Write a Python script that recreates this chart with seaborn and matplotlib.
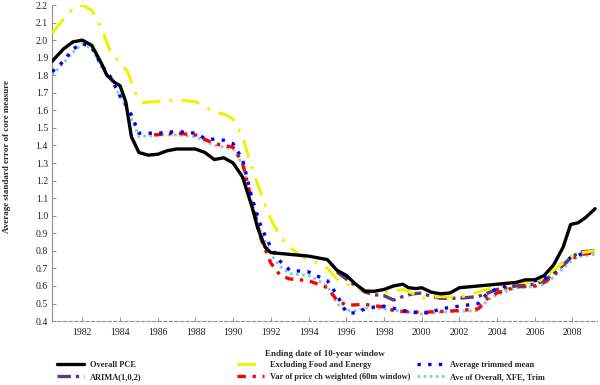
import matplotlib
matplotlib.use('Agg')
import matplotlib.pyplot as plt
import matplotlib.ticker as mticker
import pandas as pd
import seaborn as sns

# Values (year = end of 10-year window)
pce_years = [1980.4, 1981.0, 1981.5, 1982.0, 1982.5, 1983.0, 1983.3, 1983.7, 1984.0, 1984.3,
             1984.6, 1985.0, 1985.5, 1986.0, 1986.5, 1987.0, 1987.5, 1988.0, 1988.5, 1989.0,
             1989.5, 1990.0, 1990.5, 1991.0, 1991.3, 1991.7, 1992.0, 1993.0, 1994.0, 1995.0,
             1995.5, 1996.0, 1996.5, 1997.0, 1997.5, 1998.0, 1998.5, 1999.0, 1999.3, 1999.7,
             2000.0, 2000.5, 2001.0, 2001.5, 2002.0, 2002.5, 2003.0, 2004.0, 2004.5, 2005.0,
             2005.5, 2006.0, 2006.5, 2007.0, 2007.5, 2007.9, 2008.3, 2008.7, 2009.2]
pce_vals = [1.88, 1.95, 1.99, 2.00, 1.97, 1.87, 1.80, 1.76, 1.74, 1.65,
            1.45, 1.36, 1.345, 1.35, 1.37, 1.38, 1.38, 1.38, 1.36, 1.32,
            1.33, 1.30, 1.22, 1.05, 0.93, 0.82, 0.79, 0.78, 0.77, 0.75,
            0.69, 0.66, 0.61, 0.57, 0.57, 0.58, 0.60, 0.61, 0.59, 0.585,
            0.59, 0.565, 0.555, 0.56, 0.59, 0.595, 0.60, 0.61, 0.615, 0.62,
            0.635, 0.635, 0.66, 0.72, 0.82, 0.95, 0.96, 0.99, 1.04]

xfe_years = [1980.4, 1981.0, 1981.5, 1982.0, 1982.5, 1983.0, 1983.5, 1984.0, 1984.4, 1984.8,
             1985.2, 1986.0, 1987.0, 1988.0, 1988.5, 1989.0, 1989.5, 1990.0, 1990.5, 1991.0,
             1991.5, 1992.0, 1992.5, 1993.0, 1993.5, 1994.0, 1994.5, 1995.0, 1995.5, 1996.0,
             1996.5, 1997.0, 1998.0, 1998.5, 1999.0, 1999.5, 2000.0, 2000.5, 2001.0, 2002.0,
             2003.0, 2004.0, 2005.0, 2006.0, 2006.5, 2007.0, 2007.5, 2008.0, 2008.5, 2009.2]
xfe_vals = [2.04, 2.12, 2.18, 2.20, 2.17, 2.07, 1.93, 1.87, 1.82, 1.70,
            1.645, 1.65, 1.66, 1.65, 1.62, 1.59, 1.58, 1.55, 1.45, 1.27,
            1.12, 0.98, 0.88, 0.82, 0.78, 0.75, 0.73, 0.70, 0.64, 0.61,
            0.59, 0.575, 0.56, 0.57, 0.58, 0.56, 0.53, 0.535, 0.54, 0.535,
            0.565, 0.60, 0.62, 0.62, 0.64, 0.69, 0.73, 0.77, 0.79, 0.80]

trim_years = [1980.4, 1981.0, 1981.5, 1982.0, 1982.5, 1983.0, 1983.5, 1984.0, 1984.5, 1985.0,
              1986.0, 1987.0, 1988.0, 1988.5, 1989.5, 1990.0, 1990.5, 1991.0, 1991.5, 1992.0,
              1992.5, 1993.0, 1994.0, 1995.0, 1995.5, 1996.0, 1996.5, 1997.0, 1997.5, 1998.0,
              1999.0, 2000.0, 2000.5, 2001.0, 2002.0, 2003.0, 2003.5, 2004.0, 2005.0, 2006.0,
              2006.5, 2007.0, 2007.5, 2008.0, 2009.2]
trim_vals = [1.82, 1.88, 1.95, 1.98, 1.96, 1.86, 1.79, 1.68, 1.60, 1.47,
             1.47, 1.48, 1.47, 1.44, 1.43, 1.41, 1.32, 1.10, 0.93, 0.82,
             0.74, 0.69, 0.68, 0.63, 0.55, 0.45, 0.445, 0.47, 0.48, 0.485,
             0.46, 0.445, 0.45, 0.47, 0.485, 0.50, 0.56, 0.585, 0.62, 0.63,
             0.64, 0.68, 0.73, 0.77, 0.80]

var_years = [1985.8, 1987.0, 1988.0, 1989.0, 1990.0, 1990.5, 1991.0, 1991.5, 1992.0, 1992.5,
             1993.0, 1994.0, 1995.0, 1995.5, 1996.0, 1997.0, 1998.0, 1998.5, 1999.0, 2000.0,
             2001.0, 2002.0, 2003.0, 2003.5, 2004.0, 2005.0, 2006.0, 2006.5, 2007.0, 2007.5,
             2008.0, 2008.5, 2009.2]
var_vals = [1.46, 1.47, 1.46, 1.41, 1.39, 1.30, 1.08, 0.86, 0.73, 0.66,
            0.64, 0.63, 0.59, 0.52, 0.49, 0.495, 0.48, 0.46, 0.455, 0.45,
            0.455, 0.46, 0.47, 0.53, 0.56, 0.595, 0.60, 0.62, 0.66, 0.72,
            0.76, 0.78, 0.79]

ave_years = [1980.4, 1981.0, 1981.5, 1982.0, 1982.5, 1983.0, 1983.5, 1984.0, 1984.5, 1985.0,
             1986.0, 1987.0, 1988.0, 1989.0, 1990.0, 1990.5, 1991.0, 1991.5, 1992.0, 1992.5,
             1993.0, 1994.0, 1995.0, 1995.5, 1996.0, 1996.5, 1997.0, 1998.0, 1999.0, 2000.0,
             2001.0, 2002.0, 2003.0, 2003.5, 2004.0, 2005.0, 2006.0, 2006.5, 2007.0, 2007.5,
             2008.0, 2008.5, 2009.2]
ave_vals = [1.80, 1.87, 1.93, 1.98, 1.95, 1.85, 1.78, 1.68, 1.58, 1.45,
            1.46, 1.46, 1.45, 1.40, 1.38, 1.29, 1.07, 0.90, 0.78, 0.71,
            0.67, 0.66, 0.60, 0.50, 0.46, 0.46, 0.475, 0.47, 0.455, 0.44,
            0.45, 0.455, 0.46, 0.52, 0.55, 0.59, 0.595, 0.61, 0.65, 0.70,
            0.75, 0.77, 0.78]

arima_years = [1995.5, 1996.0, 1996.5, 1997.0, 1997.5, 1998.0, 1998.5, 1999.0, 1999.5, 2000.0,
               2000.5, 2001.0, 2002.0, 2003.0, 2003.5, 2004.0, 2005.0, 2006.0, 2006.5, 2007.0,
               2007.5, 2008.0, 2008.5, 2009.2]
arima_vals = [0.68, 0.64, 0.60, 0.565, 0.55, 0.545, 0.52, 0.54, 0.555, 0.56,
              0.54, 0.53, 0.53, 0.54, 0.56, 0.58, 0.60, 0.61, 0.63, 0.67,
              0.72, 0.77, 0.795, 0.80]

year_ticks = list(range(1982, 2009, 2))
y_ticks = [round(0.4 + 0.1 * i, 1) for i in range(19)]

sns.set_style('white')
plt.rcParams['font.family'] = ['Liberation Serif', 'DejaVu Serif']

fig, ax = plt.subplots(figsize=(6, 3.85), dpi=100)
fig.subplots_adjust(left=0.087, right=0.995, bottom=0.166, top=0.987)

# (label, years, values, colour, linestyle, width, zorder)
series = {
    'pce': ('Overall PCE', pce_years, pce_vals, 'black', '-', 2.4, 6),
    'arima': ('ARIMA(1,0,2)', arima_years, arima_vals, '#5b3f6e', (0, (4, 1.5, 1, 1.5)), 2.4, 4),
    'xfe': ('Excluding Food and Energy', xfe_years, xfe_vals, '#f2f200', (0, (6, 3, 1, 3)), 2.2, 5),
    'var': ('Var of price ch weighted (60m window)', var_years, var_vals, '#ff0000', (0, (2.5, 2, 1, 2)), 2.4, 3),
    'trim': ('Average trimmed mean', trim_years, trim_vals, '#0000ff', (0, (1, 2.2)), 2.4, 4),
    'ave': ('Ave of Overall, XFE, Trim', ave_years, ave_vals, '#80d0d0', (0, (1, 1.2)), 2.0, 2),
}

lines = {}
for key in ['pce', 'arima', 'xfe', 'var', 'trim', 'ave']:
    label, xs, ys, col, ls, lw, z = series[key]
    d = pd.DataFrame({'year': xs, 'value': ys})
    sns.lineplot(data=d, x='year', y='value', ax=ax, color=col, linestyle=ls,
                 linewidth=lw, zorder=z, label=label, legend=False)
    lines[key] = ax.lines[-1]

ax.set_xlim(1980.4, 2009.3)
ax.set_ylim(0.4, 2.2)
ax.set_xticks(year_ticks)
ax.xaxis.set_minor_locator(mticker.MultipleLocator(1))
ax.set_yticks(y_ticks)
ax.yaxis.set_major_formatter(mticker.FormatStrFormatter('%.1f'))
ax.tick_params(axis='both', which='both', direction='in', labelsize=7, colors='#808080',
               labelcolor='#222222', width=0.6)
ax.tick_params(axis='x', which='major', length=3, pad=5)
ax.tick_params(axis='x', which='minor', length=2)
ax.tick_params(axis='y', length=3, pad=3)
ax.tick_params(left=True, bottom=True)

for s in ['top', 'right']:
    ax.spines[s].set_visible(False)
ax.spines['left'].set_color('#909090')
ax.spines['left'].set_linewidth(0.8)
ax.spines['bottom'].set_color('#909090')
ax.spines['bottom'].set_linewidth(0.8)
ax.spines['bottom'].set_linestyle((0, (3, 2)))

ax.set_xlabel('Ending date of 10-year window', fontsize=6.5, fontweight='bold', labelpad=9)
ax.set_ylabel('Average standard error of core measure', fontsize=6.5, fontweight='bold', labelpad=8)
ax.yaxis.set_label_coords(-0.075, 0.52)

# legend as a grid of three equal-width columns
legend_cols = [(['pce', 'arima'], 0.095), (['xfe', 'var'], 0.395), (['trim', 'ave'], 0.695)]
for keys, xpos in legend_cols:
    fig.legend(handles=[lines[k] for k in keys], labels=[series[k][0] for k in keys],
               loc='upper left', bbox_to_anchor=(xpos, 0.062), ncol=1, frameon=False,
               prop={'size': 6.0, 'weight': 'bold'}, handlelength=3.2, handletextpad=0.8,
               labelspacing=0.5, borderpad=0, borderaxespad=0)

fig.savefig('out.png', dpi=100)
